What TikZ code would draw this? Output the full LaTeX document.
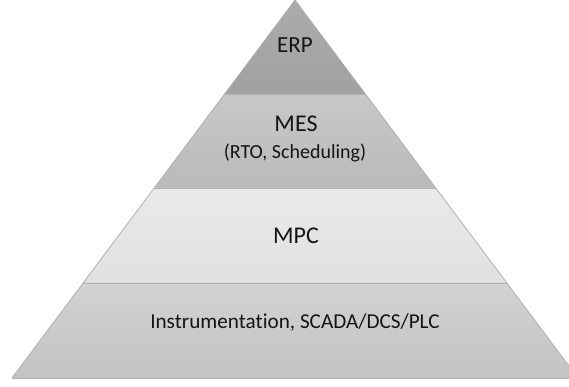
\documentclass[tikz,border=0pt]{standalone}
\usepackage{fontspec}
\setmainfont{Carlito}[Ligatures={NoCommon}]
\definecolor{erpTop}{HTML}{ABABAB}
\definecolor{erpBot}{HTML}{A1A1A1}
\definecolor{mesTop}{HTML}{C8C8C8}
\definecolor{mesBot}{HTML}{BABABA}
\definecolor{mpcTop}{HTML}{EAEAEA}
\definecolor{mpcBot}{HTML}{E0E0E0}
\definecolor{insTop}{HTML}{D2D2D2}
\definecolor{insBot}{HTML}{C3C3C3}
\definecolor{rule}{HTML}{B0B0B0}
\begin{document}
\begin{tikzpicture}[x=1pt,y=1pt,
  edge/.style={draw=rule, line width=0.8pt},
  lbl/.style={anchor=base, inner sep=0pt, text=black!92}]
\useasboundingbox (0,0) rectangle (569,387);
\clip (0,0) rectangle (569,387);
% corner points of the four bands
\coordinate (apex) at (295,387);
\coordinate (l1) at (224.6,293); \coordinate (r1) at (365.4,293);
\coordinate (l2) at (154.2,199); \coordinate (r2) at (435.8,199);
\coordinate (l3) at (83.1,104);  \coordinate (r3) at (506.9,104);
\coordinate (l4) at (12,9);      \coordinate (r4) at (578,9);
% bands, top to bottom
\shade[top color=erpTop, bottom color=erpBot] (apex) -- (r1) -- (l1) -- cycle;
\shade[top color=mesTop, bottom color=mesBot] (l1) -- (r1) -- (r2) -- (l2) -- cycle;
\shade[top color=mpcTop, bottom color=mpcBot] (l2) -- (r2) -- (r3) -- (l3) -- cycle;
\shade[top color=insTop, bottom color=insBot] (l3) -- (r3) -- (r4) -- (l4) -- cycle;
% outlines and separators
\draw[edge] (l4) -- (apex) -- (r4);
\draw[edge] (l1) -- (r1);
\draw[edge] (l2) -- (r2);
\draw[edge] (l3) -- (r3);
\draw[edge] (l4) -- (r4);
% labels
\node[lbl, font=\fontsize{23}{26}\selectfont] (erp) at (295,334) {ERP};
\node[lbl, font=\fontsize{24}{28}\selectfont] (mes) at (296,255.3) {MES};
\node[lbl, font=\fontsize{20}{24}\selectfont] (rto) at (295,228) {(RTO, Scheduling)};
\node[lbl, font=\fontsize{24}{28}\selectfont] (mpc) at (296,143.7) {MPC};
\node[lbl, font=\fontsize{21.2}{25}\selectfont] (ins) at (295,58) {Instrumentation, SCADA/DCS/PLC};
\end{tikzpicture}
\end{document}
